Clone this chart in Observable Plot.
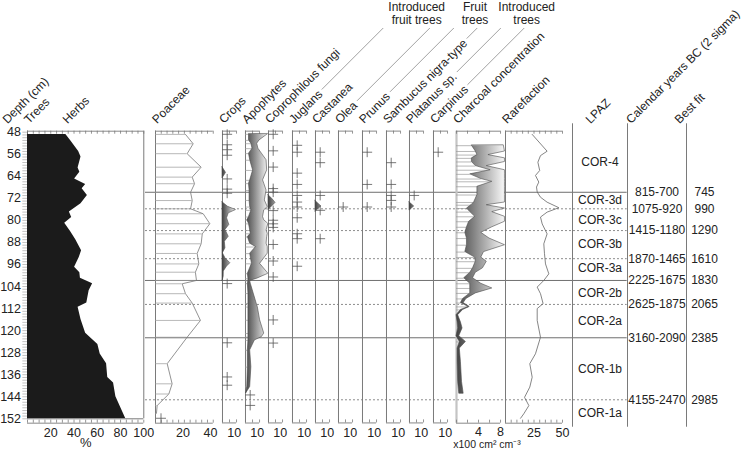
<!DOCTYPE html>
<html>
<head>
<meta charset="utf-8">
<script src="https://cdn.jsdelivr.net/npm/d3@7"></script>
<script src="https://cdn.jsdelivr.net/npm/@observablehq/plot@0.6"></script>
<style>
html,body{margin:0;padding:0;background:#fff;}
#chart{position:relative;width:744px;height:453px;overflow:hidden;background:#fff;font-family:'Liberation Sans',Arial,sans-serif;}
#chart svg{position:absolute;top:0;overflow:visible;max-width:none;}
</style>
</head>
<body>
<div id="chart"></div>
<script>
// ---------------- data ----------------
const depthLabels = [48,56,64,72,80,88,96,104,112,120,128,136,144,152];

const treeDepth = [48.8,51,55,57,61,62.5,65,67,68.5,71,74,77,79,81,84,87,91,93.5,97,99,101,103,105.5,110,111.5,116,121,125,128.5,132,137,139,144,152];
const treeVal   = [33,37,44,46,43.5,45,40.5,50,47,51.5,46,36,38,32,37,41.5,46.5,44.5,40.5,45,45.5,56,53,51,43.5,46,50,60.5,62.5,68,69,74,76,84.5];

const poaDepth = [48.8,52.2,55.8,60.7,64.3,66.7,69.8,72.8,75.8,77.6,81.2,84.9,88.5,92,95.8,98.8,101.8,103,106.6,110,116.3,122.4,132,139.3,143,147.2,150];
const poaVal   = [21.8,27.4,23,33.2,26.7,28.4,25.5,26.7,25.5,34.7,39.5,34,33.2,30.3,31.5,29,29.8,19.4,21.8,26.7,32.7,23,8.5,12.1,9.7,1.2,0.7];
const poaPlus  = [151.8];

const cropBlobDepth = [60.8,62.8,64.8];
const cropBlobVal   = [0,3,0];
const cropDepth = [73.5,75.1,76.3,77.5,79.3,81.7,83.5,86,87.8,90.2,92,93.8,95.6,96.8,98.6,100.5,102.2];
const cropVal   = [0,4.7,11.5,5.3,3.9,5.8,2.5,5.3,2,2.5,0.3,2.5,6.7,3.9,1.1,1,0];
const cropPlus  = [48.8,52.6,54.4,56.4,65,68.7,70.2,103,124.5,136.9,139.9];

const apoDepth = [48.8,51,52.2,54,55.8,58.2,61.9,65.5,66.7,69.2,72.8,75.2,76.4,78.8,80,81.3,83.7,84.9,86.1,88.5,89.7,92.1,95.8,99.4,101.2,102,103,106.6,110.2,111.5,116.3,121.1,122.4,123.6,127.2,133.3,140.5,142.9];
const apoInner = [3,3,5,6,3,4,6.5,4,3,3.5,3.5,4,5,3,1.5,3,4,4.5,2,4,9,4,5.5,2,2.5,2.5,2,2.5,2.5,2.5,2.5,2.5,2.5,2.5,2,2,1.5,0.5];
const apoOuter = [19,12,10,11,14,18,18.5,15,16,18,16.5,19,16,15,16,19.5,18,19,18.5,18,19,19,12.5,19.5,10,4,4.5,7,9.5,10.5,12.5,16,14,8,4,5,4,0.5];
const apoPlus  = [143.4,147.2];

const coproPlus = [48.8,54.8,60.7,68.5,69.8,76.5,80,81.3,82.6,88.8,94.8,100.6,116.2,124.6];
const coproBlobDepth = [70.9,72.4,73.7,75,76.3];
const coproBlobVal   = [0,3.5,6,3,0];

const juglansPlus  = [52.8,55.3,62.9,67,71,73.4,75.2,79.1,84.9,86.7,96.7];
const castaneaPlus = [55.3,59.1,71,76.4,86.7];
const castBlobDepth = [73,74,75,76,77];
const castBlobVal   = [0,2.5,5,2,0];
const oleaPlus     = [75.2];
const prunusPlus   = [55.3,67,75.2];
const sambucusPlus = [59.1,67,71,72.8,75.2];
const platanusPlus = [71];
const platBlobDepth = [73.5,75,76.5];
const platBlobVal   = [0,4,0];
const carpinusPlus = [55.3];

const charDepth = [52.9,55,56.3,57.5,58.8,60.3,61.8,63.3,65,66,67.8,70.8,73.5,74.5,75.7,77,78.7,80.5,82.5,84.5,86.6,89,91.5,93.5,95,97.4,99,101,103,104.7,106.5,108.5,110,111.4,112.5,114.4,117,119.2,122,124.1,126.5,131.3,138.6,142.9];
const charInner = [2.8,3.5,3.8,2.8,2.8,3.5,6.2,2.5,4.5,6.5,3.8,3.8,3.2,2.7,1.9,2.5,3.4,2.3,1.9,1.6,1.9,1.9,1.6,3.4,3.5,3,2.5,1.4,2.5,2.5,2.5,1.2,0.8,2.2,0.8,0,0.2,0.3,0,0.6,0.2,0.2,0.3,0.5];
const charOuter = [8.6,8.8,5.8,8.8,8.8,5.5,8.8,8.8,8.8,8.8,8.8,8.8,8.8,5.5,8.8,6.5,8.8,8.8,6.5,4.5,6,8.8,5,4.5,5.5,4.8,3.5,3,4.5,6.5,3.5,1.8,1.3,2.4,1.2,0.3,0.8,1.1,0.5,1.7,0.6,0.8,1,1.3];

const rarDepth = [48.8,54.9,56.5,58.9,61.9,63.7,66.1,67.9,69.7,71.6,73.4,75.4,77,78.8,81.3,84.9,88.5,92.1,95.8,99.4,101.8,104.2,106.6,110.2,112,116.3,122.4,128.4,132,136.9,140.5,144.2,147.2,150.2,151.8];
const rarVal   = [23.4,36.5,30.7,28.4,30,26.3,29.2,27.2,27.8,30.7,36.5,46.8,36.5,30.7,32.2,36.5,33.6,34.2,35.1,38,33.6,27.8,30.7,33,27.8,27.8,30.7,26.3,21.3,23.4,21.3,16.7,20.5,16,13.2];

const zoneDepth = [69.8,75.8,83.7,93.9,101.8,110.5,122.6,145.1];
const zoneType  = ["solid","dotted","dotted","dotted","solid","dotted","solid","dotted"];
const lpazLabels = ["COR-4","COR-3d","COR-3c","COR-3b","COR-3a","COR-2b","COR-2a","COR-1b","COR-1a"];
const lpazDepth  = [58.9,72.8,80,88.7,97.2,106.3,116.6,133.9,149.8];
const calLabels  = ["815-700","1075-920","1415-1180","1870-1465","2225-1675","2625-1875","3160-2090","4155-2470"];
const bestFit    = [745,990,1290,1610,1830,2065,2385,2985];

const treeTickLabels = [20,40,60,80,100];
const poaTickLabels = [20,40];
const smallTickLabels = [10];
const charTickLabels = [4,8];
const rarTickLabels = [25,50];

// ---------------- layout ----------------
const chart = document.getElementById("chart");
const H = 453, MT = 130.7, MB = 30.3;
const yTop = 47.64, yBot = 153.59, TL = 1.1;
const FONT = "'Liberation Sans', Arial, sans-serif";
const TEXT = "#222", AX = "#7a7a7a";
const panelLeft = {trees:26.7, poaceae:155, crops:221.7, apophytes:245, copro:268.3, juglans:291.7, castanea:315, olea:338.3,
  prunus:362.3, sambucus:385.7, platanus:409.3, carpinus:432.7, charcoal:456, rarefaction:505, lpaz:571.7, calendar:626.7, bestfit:685.7};
const SMALL = 1.17; // px per unit for the narrow panels

const zip = (ds, ...cols) => ds.map((d, i) => {
  const o = {depth: d};
  cols.forEach(([k, arr]) => o[k] = arr[i]);
  return o;
});

// gradient defs
const defs = d3.select(chart).append("svg").attr("width", 0).attr("height", 0).append("defs");
function makeGrad(id, width) {
  const g = defs.append("linearGradient").attr("id", id).attr("gradientUnits", "userSpaceOnUse")
    .attr("x1", 0).attr("x2", width).attr("y1", 0).attr("y2", 0);
  g.append("stop").attr("offset", 0).attr("stop-color", "#404040");
  g.append("stop").attr("offset", 1).attr("stop-color", "#fafafa");
  return `url(#${id})`;
}

function basePlot(width, xdomain, marks) {
  return Plot.plot({
    width, height: H, marginTop: MT, marginBottom: MB, marginLeft: 0, marginRight: 0,
    x: {domain: xdomain, axis: null},
    y: {domain: [yTop, yBot], reverse: true, axis: null},
    style: {background: "transparent", overflow: "visible", fontFamily: FONT, fontSize: "12px", color: TEXT},
    marks
  });
}
function mount(svg, left) {
  svg.style.position = "absolute";
  svg.style.left = left + "px";
  svg.style.top = "0px";
  chart.appendChild(svg);
  return svg;
}
const headers = [];
function headerMark(label, dx) {
  return Plot.text([label], {frameAnchor: "top-left", dx, dy: -7, rotate: -45, textAnchor: "start",
    lineAnchor: "bottom", text: d => d, fill: TEXT, fontSize: 12});
}
function panel({key, header, width, max, axisMax, tickStep, labels, marks = [], dx = 1.5, labelDy = 10,
                leftStroke = AX, leftWidth = 1, leftY2 = yBot, extraHeaders = []}) {
  const left = panelLeft[key];
  const ticks = d3.range(0, axisMax + 1e-9, tickStep);
  const all = [
    Plot.ruleX([0], {y1: yTop, y2: leftY2, stroke: leftStroke, strokeWidth: leftWidth}),
    Plot.ruleY([yTop, yBot], {x1: 0, x2: axisMax, stroke: AX, strokeWidth: 0.9}),
    Plot.ruleX(ticks, {y1: yTop, y2: yTop + TL, stroke: AX, strokeWidth: 0.8}),
    Plot.ruleX(ticks, {y1: yBot, y2: yBot - TL, stroke: AX, strokeWidth: 0.8}),
    Plot.text(labels, {x: d => d, y: yBot, dy: labelDy, text: d => String(d), fill: TEXT, fontSize: 12.5}),
    ...marks
  ];
  if (header) { all.push(headerMark(header, dx)); headers.push({header, left, dx}); }
  extraHeaders.forEach(h => { all.push(headerMark(h.label, h.dx)); headers.push({header: h.label, left, dx: h.dx}); });
  return mount(basePlot(width, [0, max], all), left);
}
const plusMark = (depths, x = 4) => Plot.dot(depths, {x, y: d => d, symbol: "plus", r: 3.3, stroke: "#555", strokeWidth: 0.8});
const gradArea = (data, x1, x2, fill) => Plot.areaX(data, {y: "depth", x1, x2, fill, stroke: "#4a4a4a", strokeWidth: 0.6});

// zone lines (behind everything)
mount(basePlot(panelLeft.calendar - 145, [0, 1], [
  Plot.ruleY(zoneDepth.filter((d, i) => zoneType[i] === "solid"), {stroke: "#6e6e6e", strokeWidth: 1}),
  Plot.ruleY(zoneDepth.filter((d, i) => zoneType[i] === "dotted"), {stroke: "#8c8c8c", strokeWidth: 1, strokeDasharray: "2,2"})
]), 145);

// Trees / Herbs
const trees = zip(treeDepth, ["v", treeVal]);
panel({key: "trees", header: "Trees", width: 116.3, max: 100, axisMax: 100, tickStep: 5, labels: treeTickLabels,
  leftStroke: "#555", leftY2: 152,
  extraHeaders: [{label: "Depth (cm)", dx: -20}, {label: "Herbs", dx: 40}],
  marks: [
    Plot.areaX(trees, {y: "depth", x1: 0, x2: "v", fill: "#1b1b1b"}),
    Plot.ruleX([100], {y1: yTop, y2: 152, stroke: AX}),
    Plot.ruleY([152], {x1: 0, x2: 100, stroke: AX}),
    Plot.ruleY(d3.range(48, 153, 1), {x1: -4, x2: 0, stroke: "#999", strokeWidth: 0.6}),
    Plot.text(depthLabels, {x: 0, y: d => d, dx: -6.5, textAnchor: "end", text: d => String(d), fill: TEXT, fontSize: 12.5}),
    Plot.text(["%"], {frameAnchor: "bottom", dy: 24, text: d => d, fill: TEXT, fontSize: 13})
  ]});

// Poaceae
const poa = zip(poaDepth, ["v", poaVal]);
panel({key: "poaceae", header: "Poaceae", width: 57.75, max: 42, axisMax: 42, tickStep: 4.2, labels: poaTickLabels,
  marks: [
    Plot.ruleY(poa, {y: "depth", x1: 0, x2: "v", stroke: "#9a9a9a", strokeWidth: 0.7}),
    Plot.lineX(poa, {y: "depth", x: "v", stroke: "#777", strokeWidth: 0.8}),
    plusMark(poaPlus)
  ]});

// Crops
panel({key: "crops", header: "Crops", width: 12 * SMALL, max: 12, axisMax: 12, tickStep: 6, labels: smallTickLabels,
  marks: [
    gradArea(zip(cropBlobDepth, ["v", cropBlobVal]), 0, "v", makeGrad("g-crops", 12 * SMALL)),
    gradArea(zip(cropDepth, ["v", cropVal]), 0, "v", "url(#g-crops)"),
    plusMark(cropPlus)
  ]});

// Apophytes
const apo = zip(apoDepth, ["inner", apoInner], ["outer", apoOuter]);
panel({key: "apophytes", header: "Apophytes", width: 20 * SMALL, max: 20, axisMax: 12, tickStep: 6, labels: smallTickLabels,
  marks: [
    Plot.ruleY(apo, {y: "depth", x1: 0, x2: "inner", stroke: "#9a9a9a", strokeWidth: 0.7}),
    gradArea(apo, "inner", "outer", makeGrad("g-apo", 20 * SMALL)),
    plusMark(apoPlus)
  ]});

// Coprophilous fungi
panel({key: "copro", header: "Coprophilous fungi", width: 12 * SMALL, max: 12, axisMax: 12, tickStep: 6, labels: smallTickLabels,
  marks: [
    gradArea(zip(coproBlobDepth, ["v", coproBlobVal]), 0, "v", makeGrad("g-copro", 12 * SMALL)),
    plusMark(coproPlus)
  ]});

// Introduced / fruit trees
const simple = [
  ["juglans", "Juglans", juglansPlus, null],
  ["castanea", "Castanea", castaneaPlus, [castBlobDepth, castBlobVal]],
  ["olea", "Olea", oleaPlus, null],
  ["prunus", "Prunus", prunusPlus, null],
  ["sambucus", "Sambucus nigra-type", sambucusPlus, null],
  ["platanus", "Platanus sp.", platanusPlus, [platBlobDepth, platBlobVal]],
  ["carpinus", "Carpinus", carpinusPlus, null]
];
simple.forEach(([key, name, plus, blob]) => {
  const marks = [];
  if (blob) marks.push(gradArea(zip(blob[0], ["v", blob[1]]), 0, "v", makeGrad("g-" + key, 12 * SMALL)));
  marks.push(plusMark(plus));
  panel({key, header: name, width: 12 * SMALL, max: 12, axisMax: 12, tickStep: 6, labels: smallTickLabels, marks});
});

// Charcoal concentration
const char = zip(charDepth, ["inner", charInner], ["outer", charOuter]);
panel({key: "charcoal", header: "Charcoal concentration", width: 49, max: 8.9, axisMax: 8, tickStep: 2, labels: charTickLabels,
  leftStroke: "#c4c4c4", leftWidth: 2.2, labelDy: 8.5,
  marks: [
    Plot.ruleY(char.filter(d => d.inner > 0.5), {y: "depth", x1: 0, x2: "inner", stroke: "#9a9a9a", strokeWidth: 0.7}),
    gradArea(char, "inner", "outer", makeGrad("g-char", 49)),
    Plot.text(["x100 cm\u00B2 cm\u207B\u00B3"], {frameAnchor: "bottom", dx: 6, dy: 25, text: d => d, fill: TEXT, fontSize: 10.5})
  ]});

// Rarefaction
const rar = zip(rarDepth, ["v", rarVal]);
panel({key: "rarefaction", header: "Rarefaction", width: 57, max: 50, axisMax: 50, tickStep: 5, labels: rarTickLabels,
  marks: [Plot.lineX(rar, {y: "depth", x: "v", stroke: "#666", strokeWidth: 0.8})]});

// Right-hand columns
function column(key, width, header, dx, marks) {
  const all = [Plot.ruleX([0], {y1: 44.95, y2: 155.05, stroke: AX}), ...marks, headerMark(header, dx)];
  headers.push({header, left: panelLeft[key], dx});
  return mount(basePlot(width, [0, 1], all), panelLeft[key]);
}
column("lpaz", 55, "LPAZ", 18, [
  Plot.text(lpazLabels, {y: (d, i) => lpazDepth[i], frameAnchor: "middle", text: d => d, fill: TEXT, fontSize: 12})
]);
column("calendar", 59, "Calendar years BC (2 sigma)", 3.5, [
  Plot.text(calLabels, {y: (d, i) => zoneDepth[i], frameAnchor: "middle", text: d => d, fill: TEXT, fontSize: 12})
]);
column("bestfit", 36, "Best fit", -7, [
  Plot.text(bestFit, {y: (d, i) => zoneDepth[i], frameAnchor: "middle", text: d => String(d), fill: TEXT, fontSize: 12})
]);

// Group labels with leader lines continuing the rotated taxon names
const groups = [
  {lines: ["Introduced", "fruit trees"], x: 416.7, members: ["Juglans", "Olea"]},
  {lines: ["Fruit", "trees"], x: 475, members: ["Prunus", "Sambucus nigra-type"]},
  {lines: ["Introduced", "trees"], x: 526.7, members: ["Platanus sp.", "Carpinus"]}
];
const ctx = document.createElement("canvas").getContext("2d");
ctx.font = "12px 'Liberation Sans'";
const S = Math.SQRT1_2;
const over = d3.select(chart).append("svg").attr("width", 744).attr("height", H)
  .style("position", "absolute").style("left", "0px").style("top", "0px").style("pointer-events", "none")
  .attr("font-family", FONT).attr("font-size", 12);
groups.forEach(g => {
  g.lines.forEach((t, i) => over.append("text").attr("x", g.x).attr("y", 7.5 + 13 * i)
    .attr("text-anchor", "middle").attr("dominant-baseline", "middle").attr("fill", TEXT).text(t));
  g.members.forEach(m => {
    const h = headers.find(h => h.header === m);
    const L = ctx.measureText(m).width;
    const ax = h.left + h.dx, ay = MT - 7;
    const sx = ax + (L + 3) * S - 4 * S, sy = ay - (L + 3) * S - 4 * S;
    const t = (sy - 28) / S;
    over.append("line").attr("x1", sx).attr("y1", sy).attr("x2", sx + t * S).attr("y2", sy - t * S)
      .attr("stroke", "#8a8a8a").attr("stroke-width", 0.8);
  });
});
</script>
</body>
</html>
